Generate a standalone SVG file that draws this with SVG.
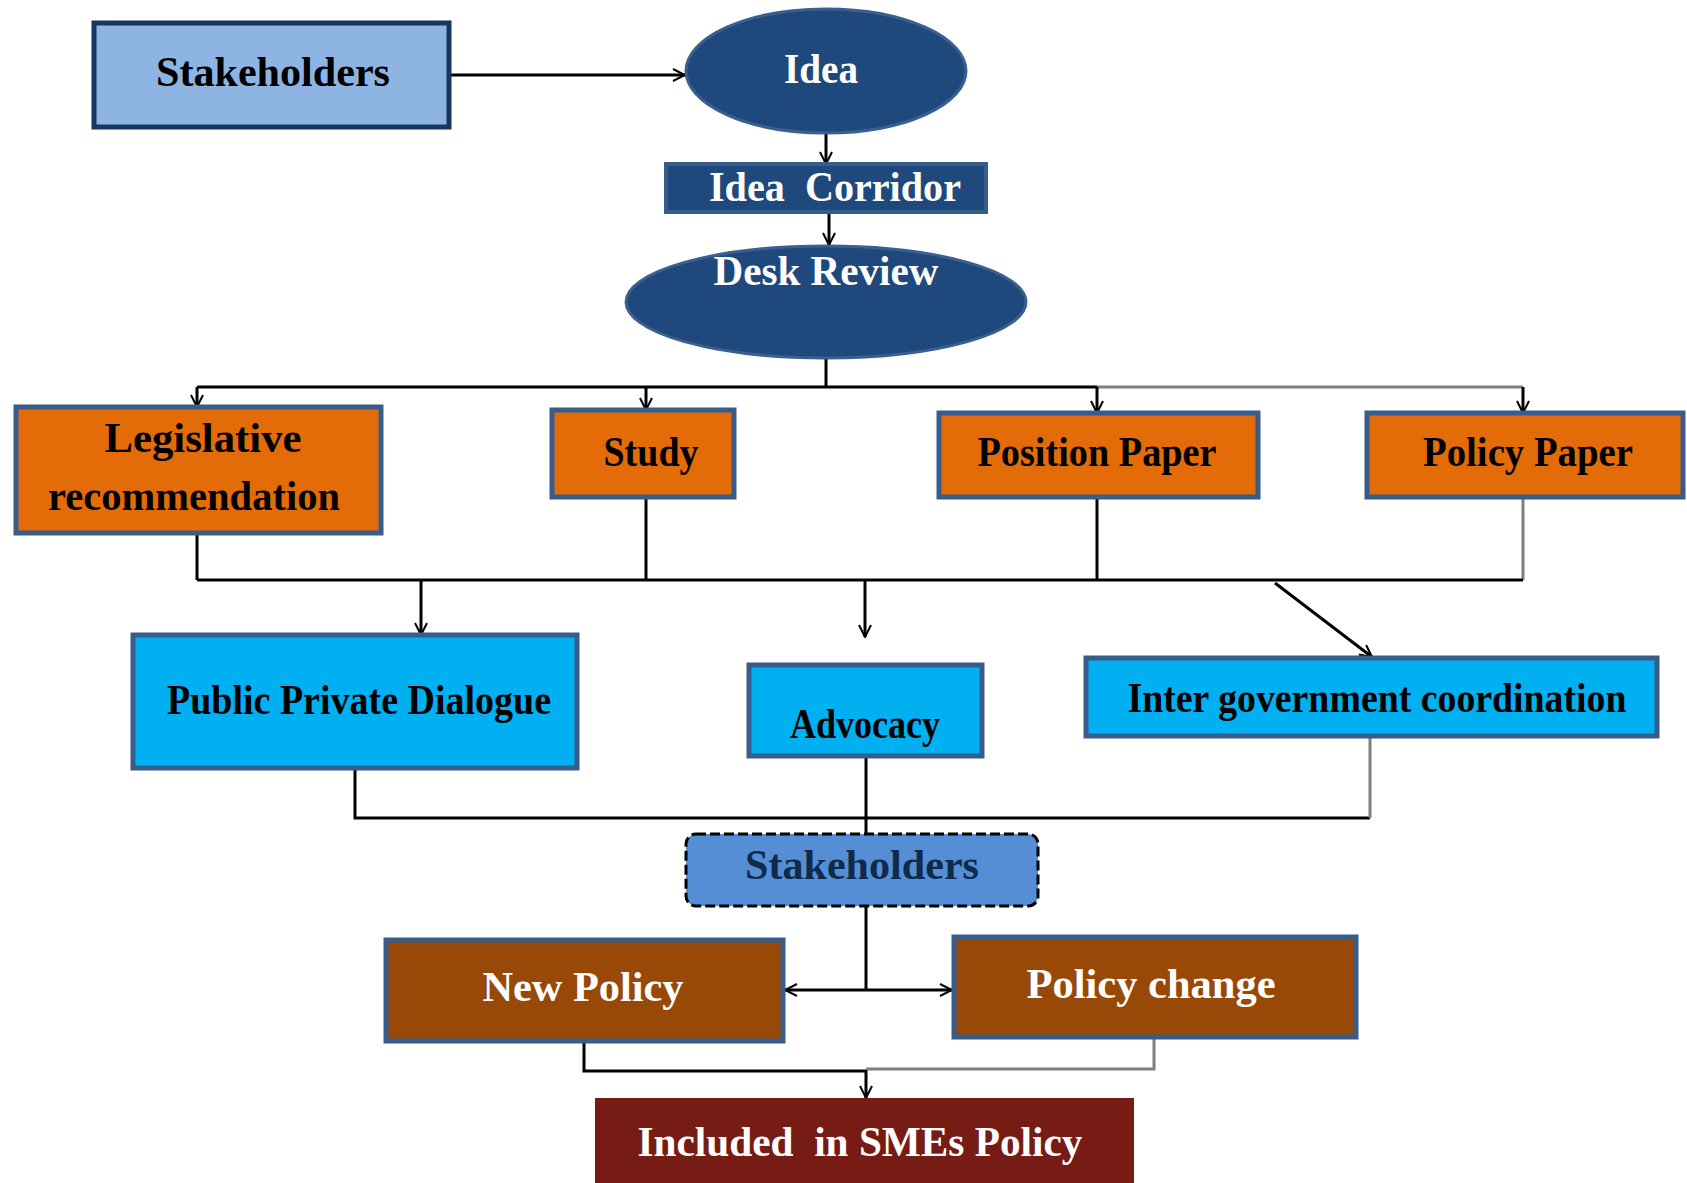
<svg xmlns="http://www.w3.org/2000/svg" width="1687" height="1183" viewBox="0 0 1687 1183">
<style>
text{font-family:"Liberation Serif","DejaVu Serif",serif;font-weight:bold;font-size:42px;text-anchor:middle}
.pre{white-space:pre}
.w{fill:#ffffff}
.k{fill:#000000}
.n{fill:#0f2a4a}
.org{fill:#E36C09;stroke:#385D8A;stroke-width:5}
.cy{fill:#00B0F0;stroke:#385D8A;stroke-width:5}
.br{fill:#984807;stroke:#385D8A;stroke-width:5}
.c{fill:none;stroke:#000;stroke-width:3}
.g{fill:none;stroke:#808080;stroke-width:3}
</style>
<defs>
<marker id="a" viewBox="0 0 14 14" refX="13" refY="7" markerWidth="14" markerHeight="14" markerUnits="userSpaceOnUse" orient="auto">
<path d="M1,1 L13,7 L1,13" fill="none" stroke="#000" stroke-width="2"/>
</marker>
</defs>
<rect width="1687" height="1183" fill="#fff"/>
<g id="connectors">
<path class="c" d="M449,75 H685" stroke="#555" marker-end="url(#a)"/>
<path class="c" d="M826,133 V164" marker-end="url(#a)"/>
<path class="c" d="M829,212 V245" marker-end="url(#a)"/>
<path class="c" d="M826,358 V387"/>
<path class="c" d="M197,387 H1097"/>
<path class="g" d="M1097,387 H1523"/>
<path class="c" d="M197,387 V407" marker-end="url(#a)"/>
<path class="c" d="M646,387 V410" marker-end="url(#a)"/>
<path class="c" d="M1097,387 V413" marker-end="url(#a)"/>
<path class="c" d="M1523,387 V413" stroke="#444" marker-end="url(#a)"/>
<path class="c" d="M197,533 V580"/>
<path class="c" d="M646,497 V580"/>
<path class="c" d="M1097,497 V580"/>
<path class="g" d="M1523,497 V580"/>
<path class="c" d="M197,580 H1523" stroke="#333"/>
<path class="c" d="M421,580 V635" marker-end="url(#a)"/>
<path class="c" d="M865,580 V637" marker-end="url(#a)"/>
<path class="c" d="M1275,583 L1372,657" stroke="#333" marker-end="url(#a)"/>
<path class="c" d="M355,768 V818 H866"/>
<path class="c" d="M866,818 H1370"/>
<path class="g" d="M1370,736 V818"/>
<path class="c" d="M866,756 V834"/>
<path class="c" d="M866,906 V990"/>
<path class="c" d="M866,990 H785" marker-end="url(#a)"/>
<path class="c" d="M866,990 H952" stroke="#666" marker-end="url(#a)"/>
<path class="c" d="M584,1041 V1071 H866"/>
<path class="g" d="M1154,1037 V1069 H866"/>
<path class="c" d="M866,1070 V1098" marker-end="url(#a)"/>
</g>
<g id="stakeholders1">
<rect x="94" y="23" width="355" height="104" fill="#8EB4E3" stroke="#17375E" stroke-width="5"/>
<text x="273" y="86" class="k" textLength="234" lengthAdjust="spacingAndGlyphs">Stakeholders</text>
</g>
<g id="idea">
<ellipse cx="826" cy="71" rx="140" ry="62" fill="#1F497D" stroke="#3b5f8f" stroke-width="3"/>
<text x="821" y="83" class="w" textLength="74" lengthAdjust="spacingAndGlyphs">Idea</text>
</g>
<g id="idea-corridor">
<rect x="666" y="164" width="320" height="48" fill="#1F497D" stroke="#385D8A" stroke-width="4"/>
<text x="835" y="201" class="w pre" textLength="252" lengthAdjust="spacingAndGlyphs">Idea  Corridor</text>
</g>
<g id="desk-review">
<ellipse cx="826" cy="302" rx="200" ry="56" fill="#1F497D" stroke="#3b5f8f" stroke-width="3"/>
<text x="826" y="285" class="w" textLength="225" lengthAdjust="spacingAndGlyphs">Desk Review</text>
</g>
<g id="legislative">
<rect x="16" y="407" width="365" height="126" class="org"/>
<text x="203" y="452" class="k" textLength="197" lengthAdjust="spacingAndGlyphs">Legislative</text>
<text x="194" y="510" class="k" textLength="292" lengthAdjust="spacingAndGlyphs">recommendation</text>
</g>
<g id="study">
<rect x="552" y="410" width="182" height="87" class="org"/>
<text x="651" y="466" class="k" textLength="95" lengthAdjust="spacingAndGlyphs">Study</text>
</g>
<g id="position-paper">
<rect x="939" y="413" width="319" height="84" class="org"/>
<text x="1097" y="466" class="k" textLength="239" lengthAdjust="spacingAndGlyphs">Position Paper</text>
</g>
<g id="policy-paper">
<rect x="1367" y="413" width="316" height="84" class="org"/>
<text x="1528" y="466" class="k" textLength="210" lengthAdjust="spacingAndGlyphs">Policy Paper</text>
</g>
<g id="ppd">
<rect x="133" y="635" width="444" height="133" class="cy"/>
<text x="359" y="714" class="k" textLength="384" lengthAdjust="spacingAndGlyphs">Public Private Dialogue</text>
</g>
<g id="advocacy">
<rect x="749" y="665" width="233" height="91" class="cy"/>
<text x="865" y="738" class="k" textLength="150" lengthAdjust="spacingAndGlyphs">Advocacy</text>
</g>
<g id="intergov">
<rect x="1086" y="658" width="571" height="78" class="cy"/>
<text x="1377" y="712" class="k" textLength="499" lengthAdjust="spacingAndGlyphs">Inter government coordination</text>
</g>
<g id="stakeholders2">
<rect x="686" y="834" width="352" height="72" rx="10" fill="#558ED5" stroke="#000" stroke-width="3" stroke-dasharray="10,4"/>
<text x="862" y="879" class="n" textLength="234" lengthAdjust="spacingAndGlyphs">Stakeholders</text>
</g>
<g id="new-policy">
<rect x="386" y="940" width="397" height="101" class="br"/>
<text x="583" y="1001" class="w" textLength="201" lengthAdjust="spacingAndGlyphs">New Policy</text>
</g>
<g id="policy-change">
<rect x="954" y="937" width="402" height="100" class="br"/>
<text x="1151" y="998" class="w" textLength="249" lengthAdjust="spacingAndGlyphs">Policy change</text>
</g>
<g id="included">
<rect x="595" y="1098" width="539" height="85" fill="#771B15"/>
<text x="860" y="1156" class="w pre" textLength="445" lengthAdjust="spacingAndGlyphs">Included  in SMEs Policy</text>
</g>
</svg>
